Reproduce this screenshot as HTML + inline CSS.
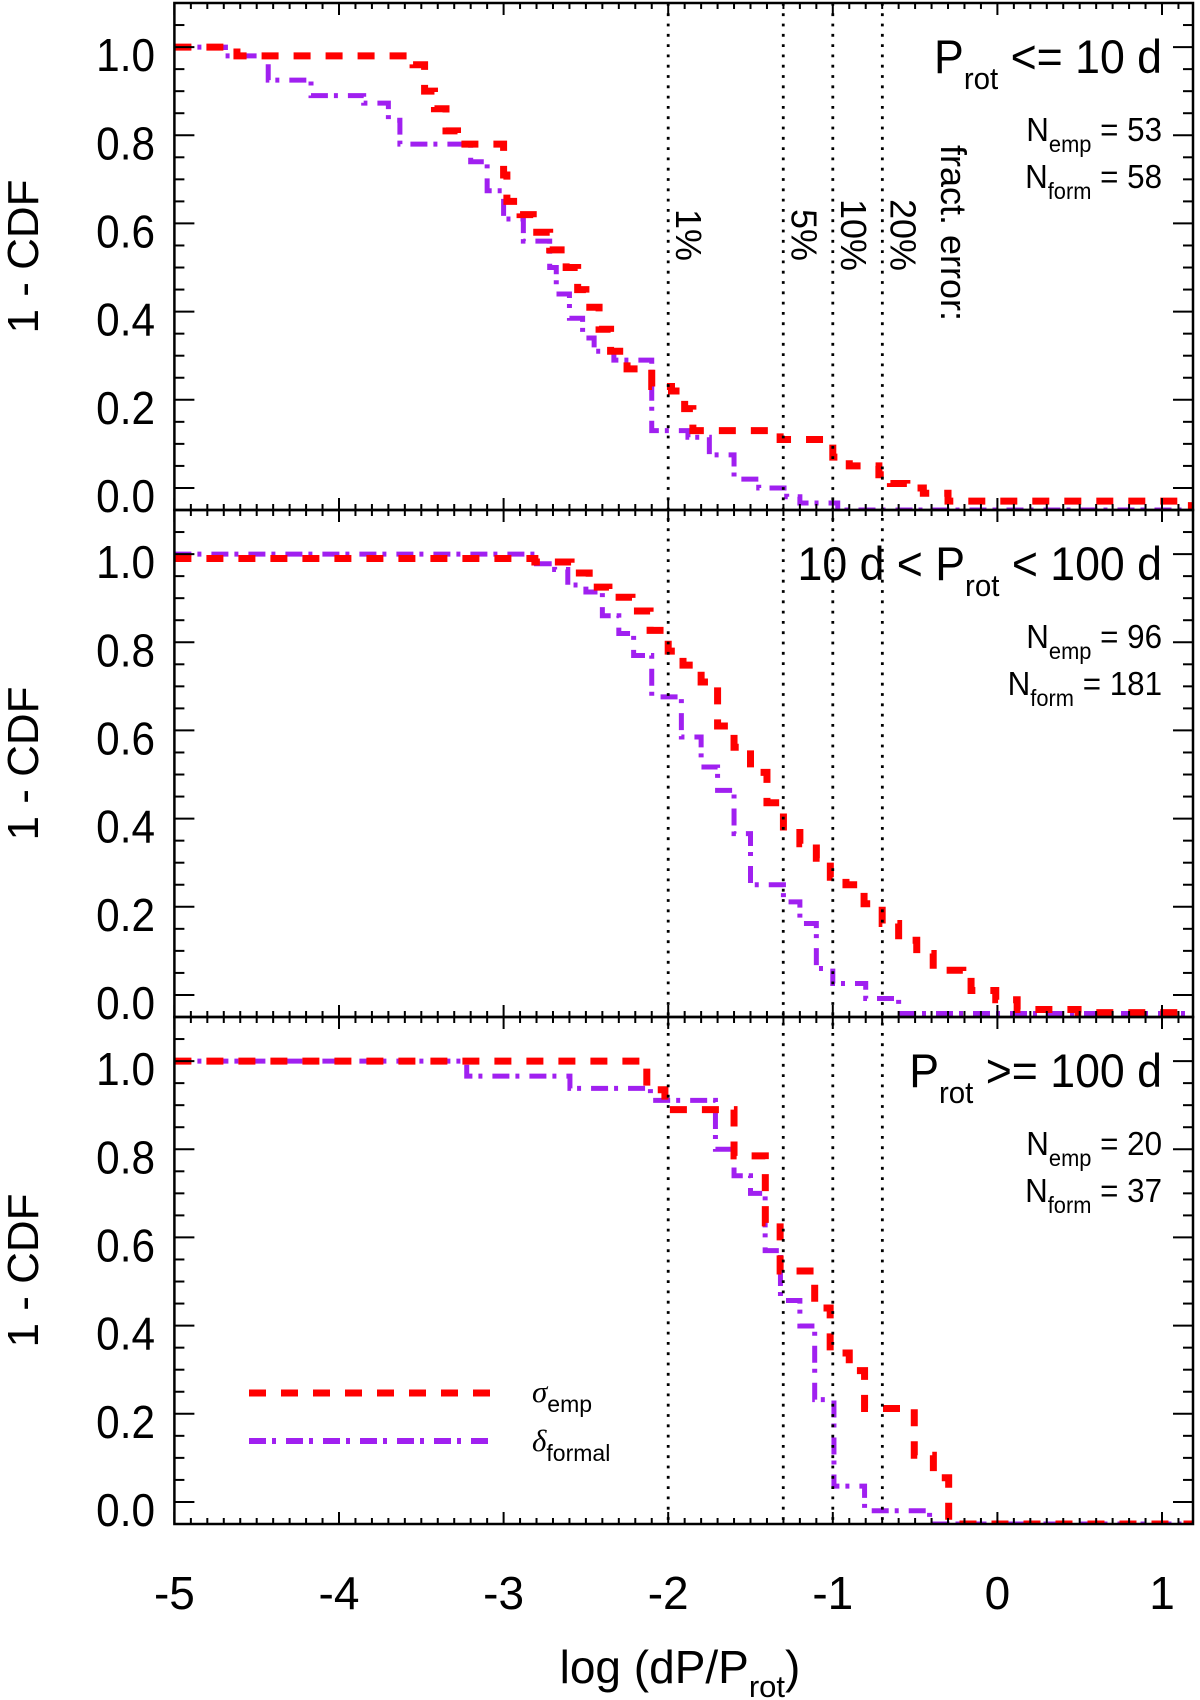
<!DOCTYPE html>
<html><head><meta charset="utf-8"><style>
html,body{margin:0;padding:0;background:#fff;}
svg{display:block;font-family:"Liberation Sans",Arial,sans-serif;}
</style></head><body>
<svg id="chart" width="1200" height="1700" viewBox="0 0 1200 1700" xmlns="http://www.w3.org/2000/svg">
<g id="panels"></g>
<g id="overlay"></g>
</svg>
<script>
// ---- data ----
const panelTitles = ["<=", "mid", ">="];
const nEmp = [53, 96, 20];
const nForm = [58, 181, 37];
const errorLevels = [-2, -1.301, -1, -0.699];
const errorLabels = ["1%", "5%", "10%", "20%"];
const xTicks = [-5, -4, -3, -2, -1, 0, 1];
const yTicks = [0.0, 0.2, 0.4, 0.6, 0.8, 1.0];

const p1EmpX = [-5,-4.62,-3.55,-3.48,-3.42,-3.35,-3.28,-3.0,-2.98,-2.9,-2.82,-2.72,-2.62,-2.55,-2.5,-2.42,-2.35,-2.25,-2.1,-1.98,-1.9,-1.85,-1.32,-1.0,-0.9,-0.72,-0.65,-0.55,-0.45,-0.3,1.15];
const p1EmpY = [1.0,0.98,0.96,0.90,0.86,0.81,0.78,0.71,0.65,0.62,0.58,0.54,0.50,0.45,0.41,0.36,0.31,0.27,0.23,0.22,0.18,0.13,0.11,0.07,0.05,0.03,0.01,0.0,-0.012,-0.03,-0.04];
const p1FormX = [-5,-4.69,-4.43,-4.17,-3.85,-3.7,-3.63,-3.2,-3.1,-3.0,-2.88,-2.72,-2.68,-2.6,-2.52,-2.45,-2.33,-2.1,-1.88,-1.75,-1.6,-1.45,-1.28,-1.2,-0.97];
const p1FormY = [1.0,0.98,0.925,0.89,0.873,0.834,0.78,0.74,0.674,0.61,0.56,0.50,0.44,0.385,0.34,0.31,0.29,0.13,0.115,0.075,0.02,0.0,-0.02,-0.034,-0.05];

const p2EmpX = [-5,-2.81,-2.59,-2.48,-2.36,-2.22,-2.11,-2.0,-1.91,-1.80,-1.70,-1.6,-1.5,-1.4,-1.30,-1.2,-1.1,-1.015,-0.92,-0.81,-0.70,-0.6,-0.49,-0.39,-0.21,-0.16,-0.01,0.12,0.49];
const p2EmpY = [0.99,0.982,0.957,0.925,0.902,0.871,0.827,0.78,0.748,0.71,0.61,0.562,0.505,0.436,0.381,0.343,0.31,0.267,0.25,0.207,0.162,0.124,0.094,0.056,0.04,0.01,-0.011,-0.033,-0.04];
const p2FormX = [-5,-2.8,-2.69,-2.61,-2.5,-2.4,-2.3,-2.21,-2.1,-1.92,-1.8,-1.7,-1.6,-1.5,-1.3,-1.2,-1.1,-1.0,-0.8,-0.6];
const p2FormY = [1.0,0.978,0.965,0.93,0.914,0.86,0.82,0.77,0.676,0.585,0.517,0.464,0.366,0.25,0.211,0.162,0.06,0.026,-0.008,-0.042];

const p3EmpX = [-5,-2.13,-2.02,-1.6,-1.41,-1.32,-1.11,-1.016,-0.90,-0.807,-0.505,-0.389,-0.296];
const p3EmpY = [1.0,0.935,0.89,0.785,0.633,0.524,0.44,0.338,0.298,0.212,0.106,0.055,-0.05];
const p3FormX = [-5,-3.224,-2.597,-2.108,-1.713,-1.6,-1.5,-1.411,-1.318,-1.2,-1.11,-0.993,-0.807,-0.412];
const p3FormY = [1.0,0.966,0.938,0.911,0.80,0.74,0.70,0.57,0.457,0.399,0.232,0.036,-0.02,-0.05];

const empX = [p1EmpX, p2EmpX, p3EmpX], empY = [p1EmpY, p2EmpY, p3EmpY];
const formX = [p1FormX, p2FormX, p3FormX], formY = [p1FormY, p2FormY, p3FormY];

// ---- layout ----
const L = 174.4, R = 1193, XMIN = -5, XPX = 164.6;
const XMAX = XMIN + (R - L) / XPX;
const panelTop = [3, 510, 1017], PH = 507, YMIN = -0.05, YMAX = 1.1;
const NS = "http://www.w3.org/2000/svg";
function sx(v){ return L + (v - XMIN) * XPX; }
function sy(p, v){ return panelTop[p] + (YMAX - v) / (YMAX - YMIN) * PH; }
function mk(tag, attrs, parent){ const e = document.createElementNS(NS, tag); for (const k in attrs) e.setAttribute(k, attrs[k]); parent.appendChild(e); return e; }

const panels = document.getElementById('panels');
const overlay = document.getElementById('overlay');
const defs = mk('defs', {}, panels);

for (let p = 0; p < 3; p++) {
  const top = panelTop[p], bot = top + PH;
  const g = mk('g', {}, panels);
  
  
  const cp = mk('clipPath', {id: 'clip' + p}, defs);
  mk('rect', {x: L, y: top, width: R - L, height: PH}, cp);

  function stepPath(xs, ys){
    let d = 'M' + sx(xs[0]) + ',' + sy(p, ys[0]);
    for (let i = 1; i < xs.length; i++) d += 'H' + sx(xs[i]) + 'V' + sy(p, ys[i]);
    d += 'H' + sx(XMAX);
    return d;
  }
  const sg = mk('g', {'clip-path': 'url(#clip' + p + ')'}, g);
  const pf = mk('path', {d: stepPath(formX[p], formY[p]), fill: 'none', stroke: '#a020f0', 'stroke-width': 5, 'stroke-dasharray': '17 6 4 10'}, sg);
  
  
  const pe = mk('path', {d: stepPath(empX[p], empY[p]), fill: 'none', stroke: '#ff0000', 'stroke-width': 7, 'stroke-dasharray': '17 15'}, sg);
  
  

  const fr = mk('rect', {x: L, y: top, width: R - L, height: PH, fill: 'none', stroke: '#000', 'stroke-width': 2.5}, g);
  
  

  for (let t = -50; t <= 11; t++) {
    const v = t / 10, X = sx(v);
    if (X > R) break;
    const len = (t % 10 === 0) ? 12 : 6;
    mk('line', {x1: X, y1: bot, x2: X, y2: bot - len, stroke: '#000', 'stroke-width': 2}, g);
    mk('line', {x1: X, y1: top, x2: X, y2: top + len, stroke: '#000', 'stroke-width': 2}, g);
  }
  for (let t = -1; t <= 22; t++) {
    const v = t * 0.05, Y = sy(p, v);
    if (Y < top || Y > bot) continue;
    const len = (t % 4 === 0) ? 20 : 10;
    mk('line', {x1: L, y1: Y, x2: L + len, y2: Y, stroke: '#000', 'stroke-width': 2}, g);
    mk('line', {x1: R, y1: Y, x2: R - len, y2: Y, stroke: '#000', 'stroke-width': 2}, g);
  }
  yTicks.forEach(v => {
    const tl = mk('text', {x: 0, y: 0, 'font-size': 46, 'text-anchor': 'end', transform: 'translate(155,' + (sy(p, v) + 24) + ') scale(0.92,1)'}, g);
    tl.textContent = v.toFixed(1);
    
    
  });
  const yt = mk('text', {x: 0, y: 0, 'font-size': 44, 'text-anchor': 'middle', transform: 'translate(38,' + (top + PH / 2) + ') rotate(-90)'}, g);
  yt.textContent = '1 - CDF';
  
  

  const tt = mk('text', {x: 0, y: 0, 'font-size': 47, 'text-anchor': 'end', transform: 'translate(1162,' + (top + 70) + ') scale(0.95,1)'}, g);
  
  
  const sub = '<tspan font-size="31" dy="16">rot</tspan><tspan dy="-16">';
  if (p === 0) tt.innerHTML = 'P' + sub + ' &lt;= 10 d</tspan>';
  else if (p === 1) tt.innerHTML = '10 d &lt; P' + sub + ' &lt; 100 d</tspan>';
  else tt.innerHTML = 'P' + sub + ' &gt;= 100 d</tspan>';
  const n1 = mk('text', {x: 0, y: 0, 'font-size': 33, 'text-anchor': 'end', transform: 'translate(1162,' + (top + 138) + ') scale(0.95,1)'}, g);
  n1.innerHTML = 'N<tspan font-size="23" dy="11">emp</tspan><tspan dy="-11"> = ' + nEmp[p] + '</tspan>';
  
  
  const n2 = mk('text', {x: 0, y: 0, 'font-size': 33, 'text-anchor': 'end', transform: 'translate(1162,' + (top + 185) + ') scale(0.95,1)'}, g);
  n2.innerHTML = 'N<tspan font-size="23" dy="11">form</tspan><tspan dy="-11"> = ' + nForm[p] + '</tspan>';
  
  
}

errorLevels.forEach((v, i) => {
  const ln = mk('line', {x1: sx(v), y1: panelTop[0], x2: sx(v), y2: panelTop[2] + PH, stroke: '#000', 'stroke-width': 2.8, 'stroke-dasharray': '2.8 7.5'}, overlay);
  
  
  const tx = mk('text', {x: 0, y: 0, 'font-size': 36, 'text-anchor': 'middle', transform: 'translate(' + (sx(v) + 8) + ',235) rotate(90)'}, overlay);
  tx.textContent = errorLabels[i];
  
  
});
const fe = mk('text', {x: 0, y: 0, 'font-size': 36, 'text-anchor': 'middle', transform: 'translate(941,233) rotate(90)'}, overlay);
fe.textContent = 'fract. error:';



xTicks.forEach(v => {
  const t = mk('text', {x: sx(v), y: 1609, 'font-size': 46, 'text-anchor': 'middle'}, overlay);
  t.textContent = v;
  
  
});
const xt = mk('text', {x: 680, y: 1683, 'font-size': 46, 'text-anchor': 'middle'}, overlay);
xt.innerHTML = 'log (dP/P<tspan font-size="31" dy="14">rot</tspan><tspan dy="-14">)</tspan>';



const lg = mk('g', {}, overlay);


const l1 = mk('line', {x1: 249, y1: 1393, x2: 494, y2: 1393, stroke: '#ff0000', 'stroke-width': 7, 'stroke-dasharray': '17 15'}, lg);


const l2 = mk('line', {x1: 249, y1: 1441, x2: 494, y2: 1441, stroke: '#a020f0', 'stroke-width': 6, 'stroke-dasharray': '17 6 4 10'}, lg);


const t1 = mk('text', {x: 532, y: 1402, 'font-size': 31}, lg);
t1.innerHTML = '<tspan font-style="italic" font-family="Liberation Serif">σ</tspan><tspan font-size="23" dy="10">emp</tspan>';


const t2 = mk('text', {x: 532, y: 1451, 'font-size': 31}, lg);
t2.innerHTML = '<tspan font-style="italic" font-family="Liberation Serif">δ</tspan><tspan font-size="23" dy="10">formal</tspan>';


</script>
</body></html>
